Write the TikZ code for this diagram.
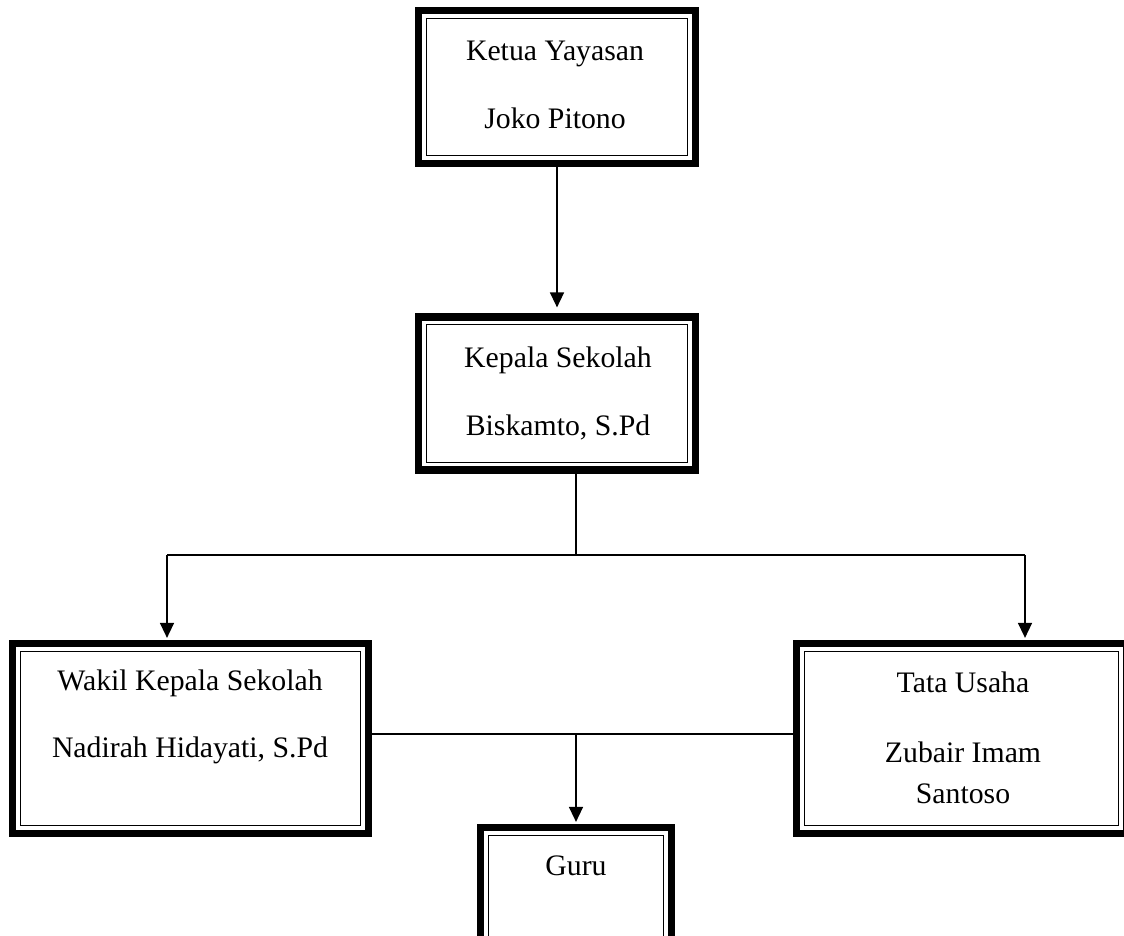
\documentclass[tikz,border=0pt]{standalone}
\usepackage{fontspec}
\setmainfont{Liberation Serif}
\usetikzlibrary{arrows.meta}
\begin{document}
\begin{tikzpicture}[x=0.4pt,y=-0.4pt,
    >={Triangle[width=5.6pt,length=6pt]},
    orgbox/.style={draw,rectangle,line width=2.9pt,inner sep=0pt,
        path picture={\draw[line width=0.55pt]
            ([shift={(3.1pt,3.1pt)}]path picture bounding box.south west) rectangle
            ([shift={(-3.1pt,-3.1pt)}]path picture bounding box.north east);}},
    topbox/.style={orgbox,minimum width=110.8pt,minimum height=61.2pt},
    lbl/.style={anchor=base,inner sep=0pt,font=\fontsize{11.9}{14}\selectfont},
    conn/.style={line width=0.6pt}]
    \useasboundingbox (0,0) rectangle (1124,935);
    \clip (0,0) rectangle (1124,935);
    % boxes
    \node[topbox] (ketua) at (557,87) {};
    \node[topbox] (kepala) at (557,393.5) {};
    \node[orgbox,minimum width=142.4pt,minimum height=76pt] (wakil) at (190.5,738.5) {};
    \node[orgbox,minimum width=132pt,minimum height=76pt] (tata) at (961.5,738.5) {};
    \node[orgbox,minimum width=76.4pt,minimum height=59.6pt] (guru) at (576,902) {};
    % texts
    \node[lbl] (ketuaA) at (555,60) {Ketua Yayasan};
    \node[lbl] (ketuaB) at (555,128) {Joko Pitono};
    \node[lbl] (kepalaA) at (558,367) {Kepala Sekolah};
    \node[lbl] (kepalaB) at (558,435) {Biskamto, S.Pd};
    \node[lbl] (wakilA) at (190,690) {Wakil Kepala Sekolah};
    \node[lbl] (wakilB) at (190,757) {Nadirah Hidayati, S.Pd};
    \node[lbl] (tataA) at (963,692) {Tata Usaha};
    \node[lbl] (tataB) at (963,762) {Zubair Imam};
    \node[lbl] (tataC) at (963,803) {Santoso};
    \node[lbl] (guruA) at (576,875) {Guru};
    % connectors
    \coordinate (split) at (576,555);
    \coordinate (lsplit) at (167,555);
    \coordinate (rsplit) at (1025,555);
    \coordinate (junc) at (576,734);
    \draw[conn,->,shorten >=2.4pt] (ketua.south) -- (kepala.north);
    \draw[conn] (kepala.south -| split) -- (split);
    \draw[conn] (lsplit) -- (rsplit);
    \draw[conn,->,shorten >=0.8pt] (lsplit) -- (wakil.north -| lsplit);
    \draw[conn,->,shorten >=0.8pt] (rsplit) -- (tata.north -| rsplit);
    \draw[conn] (wakil.east |- junc) -- (tata.west |- junc);
    \draw[conn,->,shorten >=0.8pt] (junc) -- (guru.north);
\end{tikzpicture}
\end{document}
